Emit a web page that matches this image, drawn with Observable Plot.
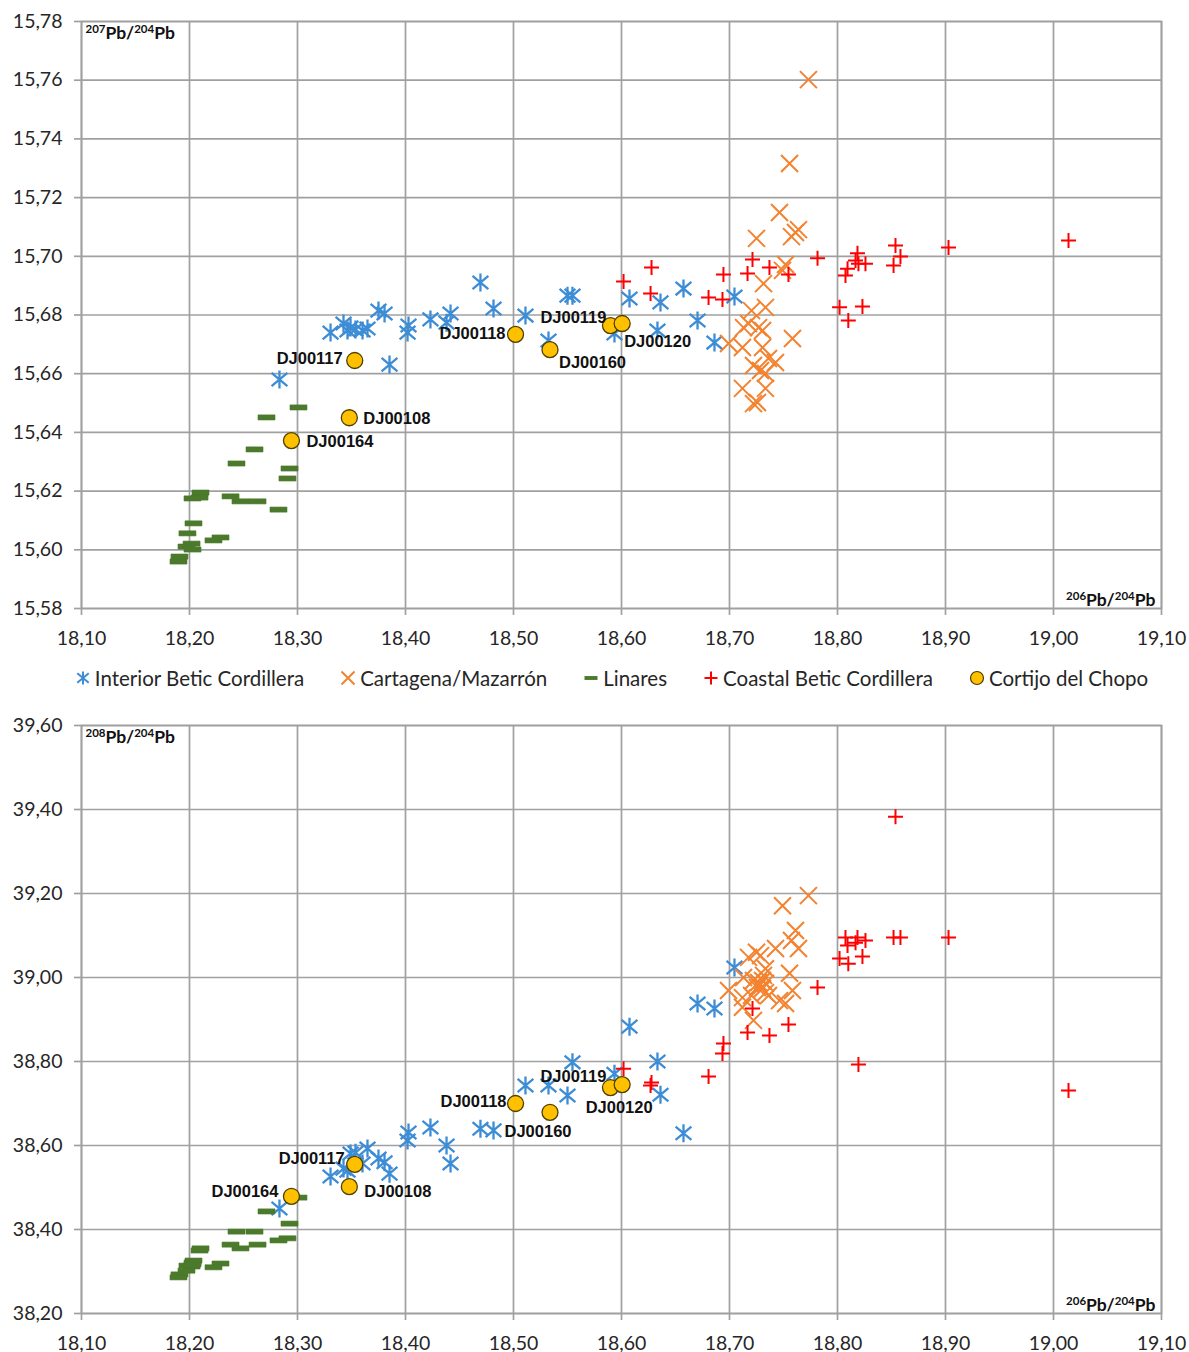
<!DOCTYPE html>
<html>
<head>
<meta charset="utf-8">
<script src="https://cdn.jsdelivr.net/npm/d3@7"></script>
<script src="https://cdn.jsdelivr.net/npm/@observablehq/plot@0.6"></script>
<style>
  body { margin: 0; background: #fff; font-family: Lato, "Open Sans", sans-serif; }
  #legend { height: 50px; display: flex; align-items: center; justify-content: center;
            gap: 37px; padding-left: 35px; box-sizing: border-box; font-size: 20.5px; color: #262626; padding-top: 5px; }
  #legend .item { display: flex; align-items: center; gap: 5px; white-space: nowrap; }
  #legend svg { overflow: visible; }
</style>
</head>
<body>
<div id="top"></div>
<div id="legend"></div>
<div id="bottom"></div>
<script>
// ---- Axis ticks ----
const pb206Ticks = [18.1, 18.2, 18.3, 18.4, 18.5, 18.6, 18.7, 18.8, 18.9, 19.0, 19.1];
const pb207Ticks = [15.58, 15.60, 15.62, 15.64, 15.66, 15.68, 15.70, 15.72, 15.74, 15.76, 15.78];
const pb208Ticks = [38.2, 38.4, 38.6, 38.8, 39.0, 39.2, 39.4, 39.6];

// ---- Interior Betic Cordillera ----
const interiorPb206 = [18.2833, 18.3306, 18.3426, 18.3463, 18.3491, 18.3537, 18.3602, 18.3648, 18.3750, 18.3806,
                       18.3852, 18.4019, 18.4028, 18.4231, 18.4380, 18.4417, 18.4694, 18.4815, 18.5111, 18.5324,
                       18.5500, 18.5546, 18.5935, 18.6074, 18.6333, 18.6361, 18.6574, 18.6704, 18.6861, 18.7046];
const interiorPb207 = [15.6580, 15.6740, 15.6771, 15.6747, 15.6757, 15.6751, 15.6747, 15.6754, 15.6815, 15.6805,
                       15.6631, 15.6740, 15.6764, 15.6785, 15.6774, 15.6805, 15.6911, 15.6822, 15.6798, 15.6713,
                       15.6866, 15.6866, 15.6737, 15.6856, 15.6747, 15.6843, 15.6890, 15.6781, 15.6706, 15.6863];
const interiorPb208 = [38.450, 38.526, 38.545, 38.540, 38.581, 38.583, 38.557, 38.593, 38.569, 38.560,
                       38.533, 38.612, 38.631, 38.643, 38.600, 38.557, 38.640, 38.636, 38.743, 38.743,
                       38.719, 38.798, 38.771, 38.883, 38.800, 38.721, 38.629, 38.938, 38.926, 39.024];

// ---- Cartagena/Mazarrón ----
const cartagenaPb206 = [18.6991, 18.7120, 18.7120, 18.7130, 18.7176, 18.7204, 18.7222, 18.7222, 18.7250, 18.7259,
                        18.7269, 18.7287, 18.7306, 18.7306, 18.7315, 18.7333, 18.7333, 18.7333, 18.7361, 18.7426,
                        18.7463, 18.7491, 18.7519, 18.7556, 18.7574, 18.7583, 18.7611, 18.7639, 18.7731];
const cartagenaPb207 = [15.6703, 15.6689, 15.6550, 15.6757, 15.6771, 15.6815, 15.6628, 15.6498, 15.7061, 15.6502,
                        15.6757, 15.6611, 15.6747, 15.6689, 15.6907, 15.6826, 15.6601, 15.6550, 15.6652, 15.6638,
                        15.7149, 15.6952, 15.6972, 15.7316, 15.7067, 15.6720, 15.7081, 15.7091, 15.7602];
const cartagenaPb208 = [38.969, 38.929, 38.952, 39.000, 39.048, 38.957, 38.993, 38.898, 39.060, 38.976,
                        38.988, 39.052, 38.974, 38.993, 39.005, 39.021, 38.964, 38.986, 38.957, 39.069,
                        38.945, 39.171, 38.938, 39.010, 39.088, 38.969, 39.112, 39.069, 39.195];

// ---- Linares ----
const linaresPb206 = [18.3009, 18.2713, 18.2602, 18.2435, 18.2926, 18.2907, 18.2824, 18.2630, 18.2472, 18.2380,
                      18.2287, 18.2222, 18.2102, 18.2093, 18.2028, 18.2037, 18.1981, 18.2019, 18.1972, 18.2028,
                      18.1907, 18.1898];
const linaresPb207 = [15.6485, 15.6451, 15.6342, 15.6294, 15.6277, 15.6243, 15.6137, 15.6165, 15.6165, 15.6182,
                      15.6042, 15.6032, 15.6195, 15.6178, 15.6175, 15.6090, 15.6056, 15.6021, 15.6011, 15.6001,
                      15.5977, 15.5960];
const linaresPb208 = [38.476, 38.443, 38.395, 38.395, 38.414, 38.379, 38.374, 38.364, 38.355, 38.364,
                      38.319, 38.310, 38.355, 38.350, 38.321, 38.326, 38.314, 38.312, 38.302, 38.317,
                      38.293, 38.286];

// ---- Coastal Betic Cordillera ----
const coastalPb206 = [18.6019, 18.6278, 18.6269, 18.6806, 18.6935, 18.6944, 18.7167, 18.7213, 18.7370, 18.7546,
                      18.7815, 18.8019, 18.8074, 18.8093, 18.8100, 18.8167, 18.8185, 18.8194, 18.8259, 18.8231,
                      18.8519, 18.8537, 18.8583, 18.9028, 19.0139];
const coastalPb207 = [15.6914, 15.6962, 15.6873, 15.6860, 15.6853, 15.6938, 15.6941, 15.6989, 15.6962, 15.6938,
                      15.6993, 15.6826, 15.6935, 15.6958, 15.6781, 15.6986, 15.7010, 15.6975, 15.6975, 15.6829,
                      15.6969, 15.7037, 15.6999, 15.7030, 15.7054];
const coastalPb208 = [38.783, 38.750, 38.743, 38.764, 38.819, 38.843, 38.869, 38.926, 38.862, 38.888,
                      38.976, 39.045, 39.095, 39.076, 39.033, 39.083, 39.095, 38.793, 39.088, 39.050,
                      39.095, 39.383, 39.095, 39.095, 38.731];

// ---- Cortijo del Chopo ----
const chopoSamples = ["DJ00117", "DJ00108", "DJ00164", "DJ00118", "DJ00160", "DJ00119", "DJ00120"];
const chopoPb206 = [18.3530, 18.3480, 18.2944, 18.5019, 18.5338, 18.5898, 18.6006];
const chopoPb207 = [15.6645, 15.6450, 15.6372, 15.6734, 15.6682, 15.6764, 15.6771];
const chopoPb208 = [38.555, 38.502, 38.479, 38.700, 38.679, 38.738, 38.745];

// ---- Marker shapes (size -> half-extent r) ----
const rOf = size => Math.sqrt(size / Math.PI);
const starSymbol = { draw(ctx, size) { const r = rOf(size), a = r * 0.88, b = r * 0.74;
  ctx.moveTo(0, -r); ctx.lineTo(0, r);
  ctx.moveTo(-a, -b); ctx.lineTo(a, b); ctx.moveTo(-a, b); ctx.lineTo(a, -b); } };
const timesSymbol = { draw(ctx, size) { const r = rOf(size);
  ctx.moveTo(-r, -r); ctx.lineTo(r, r); ctx.moveTo(-r, r); ctx.lineTo(r, -r); } };
const plusSymbol = { draw(ctx, size) { const r = rOf(size);
  ctx.moveTo(-r, 0); ctx.lineTo(r, 0); ctx.moveTo(0, -r); ctx.lineTo(0, r); } };
const dashSymbol = { draw(ctx, size) { const r = rOf(size), h = r * 0.3;
  ctx.rect(-r, -h, 2 * r, 2 * h); } };

const series = [
  {name: "Interior Betic Cordillera", x: interiorPb206, y207: interiorPb207, y208: interiorPb208,
   symbol: starSymbol, color: "#3d8dd6", r: 9, width: 2.3, kind: "stroke"},
  {name: "Cartagena/Mazarrón", x: cartagenaPb206, y207: cartagenaPb207, y208: cartagenaPb208,
   symbol: timesSymbol, color: "#f4822f", r: 8.5, width: 2, kind: "stroke"},
  {name: "Linares", x: linaresPb206, y207: linaresPb207, y208: linaresPb208,
   symbol: dashSymbol, color: "#4c7a2c", r: 8.5, width: 0.6, kind: "fill"},
  {name: "Coastal Betic Cordillera", x: coastalPb206, y207: coastalPb207, y208: coastalPb208,
   symbol: plusSymbol, color: "#ff0000", r: 7.5, width: 2, kind: "stroke"},
];
const chopoColor = "#ffc000";

const chopo = chopoSamples.map((s, i) => ({sample: s, x: chopoPb206[i], y207: chopoPb207[i], y208: chopoPb208[i]}));

// Label placement for the Cortijo del Chopo samples in each panel
const placements = {
  y207: {
    DJ00117: {textAnchor: "end", dx: -12, dy: -2},
    DJ00108: {textAnchor: "start", dx: 14, dy: 1},
    DJ00164: {textAnchor: "start", dx: 15, dy: 1},
    DJ00118: {textAnchor: "end", dx: -10, dy: -1},
    DJ00160: {textAnchor: "start", dx: 9, dy: 13},
    DJ00119: {textAnchor: "end", dx: -4, dy: -8},
    DJ00120: {textAnchor: "start", dx: 2, dy: 18},
  },
  y208: {
    DJ00117: {textAnchor: "end", dx: -10, dy: -6},
    DJ00108: {textAnchor: "start", dx: 15, dy: 5},
    DJ00164: {textAnchor: "end", dx: -13, dy: -5},
    DJ00118: {textAnchor: "end", dx: -9, dy: -2},
    DJ00160: {textAnchor: "middle", dx: -12, dy: 19},
    DJ00119: {textAnchor: "end", dx: -4, dy: -11},
    DJ00120: {textAnchor: "middle", dx: -3, dy: 23},
  }
};

const commaFmt = d => d3.format(".2f")(d).replace(".", ",");
const gridGray = "#a0a0a0";

function panel({yKey, yDomain, yTicks, yTitle, height, marginTop, marginBottom}) {
  const pointMarks = series.map(s => {
    const rows = s.x.map((x, i) => ({x, y: s[yKey][i]}));
    return Plot.dot(rows, {x: "x", y: "y", symbol: () => s.symbol, r: s.r,
      ...(s.kind === "stroke" ? {stroke: s.color, strokeWidth: s.width, fill: "none"} : {fill: s.color, stroke: s.color, strokeWidth: s.width})});
  });
  const labelMarks = chopo.map(d => {
    const p = placements[yKey][d.sample];
    return Plot.text([d], {x: "x", y: yKey, text: "sample", textAnchor: p.textAnchor, dx: p.dx, dy: p.dy,
      fontFamily: "'Liberation Sans', Arial, sans-serif", fontWeight: "bold", fontSize: 16.5, fill: "#111"});
  });
  return Plot.plot({
    width: 1189, height, marginLeft: 81, marginRight: 28, marginTop, marginBottom,
    style: {fontFamily: "Lato, sans-serif", fontSize: "19px", color: "#262626", background: "#fff", overflow: "visible"},
    x: {domain: [18.1, 19.1]},
    y: {domain: yDomain},
    marks: [
      Plot.gridX(pb206Ticks, {stroke: gridGray, strokeOpacity: 1, strokeWidth: 1.7}),
      Plot.gridY(yTicks, {stroke: gridGray, strokeOpacity: 1, strokeWidth: 1.7}),
      Plot.frame({stroke: gridGray, strokeWidth: 1.7}),
      Plot.axisX(pb206Ticks, {tickFormat: commaFmt, tickSize: 7, tickPadding: 16, stroke: gridGray, strokeWidth: 1.7, label: null, fontSize: 19.5, fill: "#262626"}),
      Plot.axisY(yTicks, {tickFormat: commaFmt, tickSize: 7, tickPadding: 12, stroke: gridGray, strokeWidth: 1.7, label: null, fontSize: 19.5, fill: "#262626"}),
      ...pointMarks,
      Plot.dot(chopo, {x: "x", y: yKey, r: 8, fill: chopoColor, stroke: "#4d4000", strokeWidth: 1.3}),
      ...labelMarks,
      Plot.text([yTitle], {frameAnchor: "top-left", dx: 4, dy: 5, lineAnchor: "top", textAnchor: "start",
        fontWeight: "bold", fontSize: 17.5, fill: "#111", className: "isotope-label"}),
      Plot.text(["206Pb/204Pb"], {frameAnchor: "bottom-right", dx: -6, dy: -3, lineAnchor: "bottom", textAnchor: "end",
        fontWeight: "bold", fontSize: 17.5, fill: "#111", className: "isotope-label"}),
    ]
  });
}

// Turn the mass numbers of the isotope ratio titles into superscripts
function superscriptify(svg) {
  d3.select(svg).selectAll(".isotope-label text").each(function () {
    const t = d3.select(this);
    const s = t.text();
    t.text("");
    s.split(/(\d+)/).filter(Boolean).forEach(part => {
      if (/^\d+$/.test(part)) t.append("tspan").attr("font-size", 11.5).attr("baseline-shift", "6").text(part);
      else t.append("tspan").text(part);
    });
  });
}

const chart207 = panel({yKey: "y207", yDomain: [15.58, 15.78], yTicks: pb207Ticks, yTitle: "207Pb/204Pb",
  height: 650, marginTop: 21, marginBottom: 42});
const chart208 = panel({yKey: "y208", yDomain: [38.2, 39.6], yTicks: pb208Ticks, yTitle: "208Pb/204Pb",
  height: 652, marginTop: 25, marginBottom: 39});
superscriptify(chart207);
superscriptify(chart208);
document.getElementById("top").append(chart207);
document.getElementById("bottom").append(chart208);

// Legend
const legend = d3.select("#legend");
const legendItems = [...series.map(s => ({name: s.name, symbol: s.symbol, color: s.color, kind: s.kind, r: 6.5})),
  {name: "Cortijo del Chopo", symbol: d3.symbolCircle, color: chopoColor, kind: "circle", r: 6.5}];
legendItems.forEach(it => {
  const item = legend.append("div").attr("class", "item");
  const sw = item.append("svg").attr("width", 14).attr("height", 20);
  const path = d3.path();
  it.symbol.draw(path, Math.PI * it.r * it.r);
  const p = sw.append("path").attr("transform", "translate(7,10)").attr("d", path.toString());
  if (it.kind === "stroke") p.attr("fill", "none").attr("stroke", it.color).attr("stroke-width", 2);
  else if (it.kind === "fill") p.attr("fill", it.color);
  else p.attr("fill", it.color).attr("stroke", "#4d4000").attr("stroke-width", 1.2);
  item.append("span").text(it.name);
});
</script>
</body>
</html>
